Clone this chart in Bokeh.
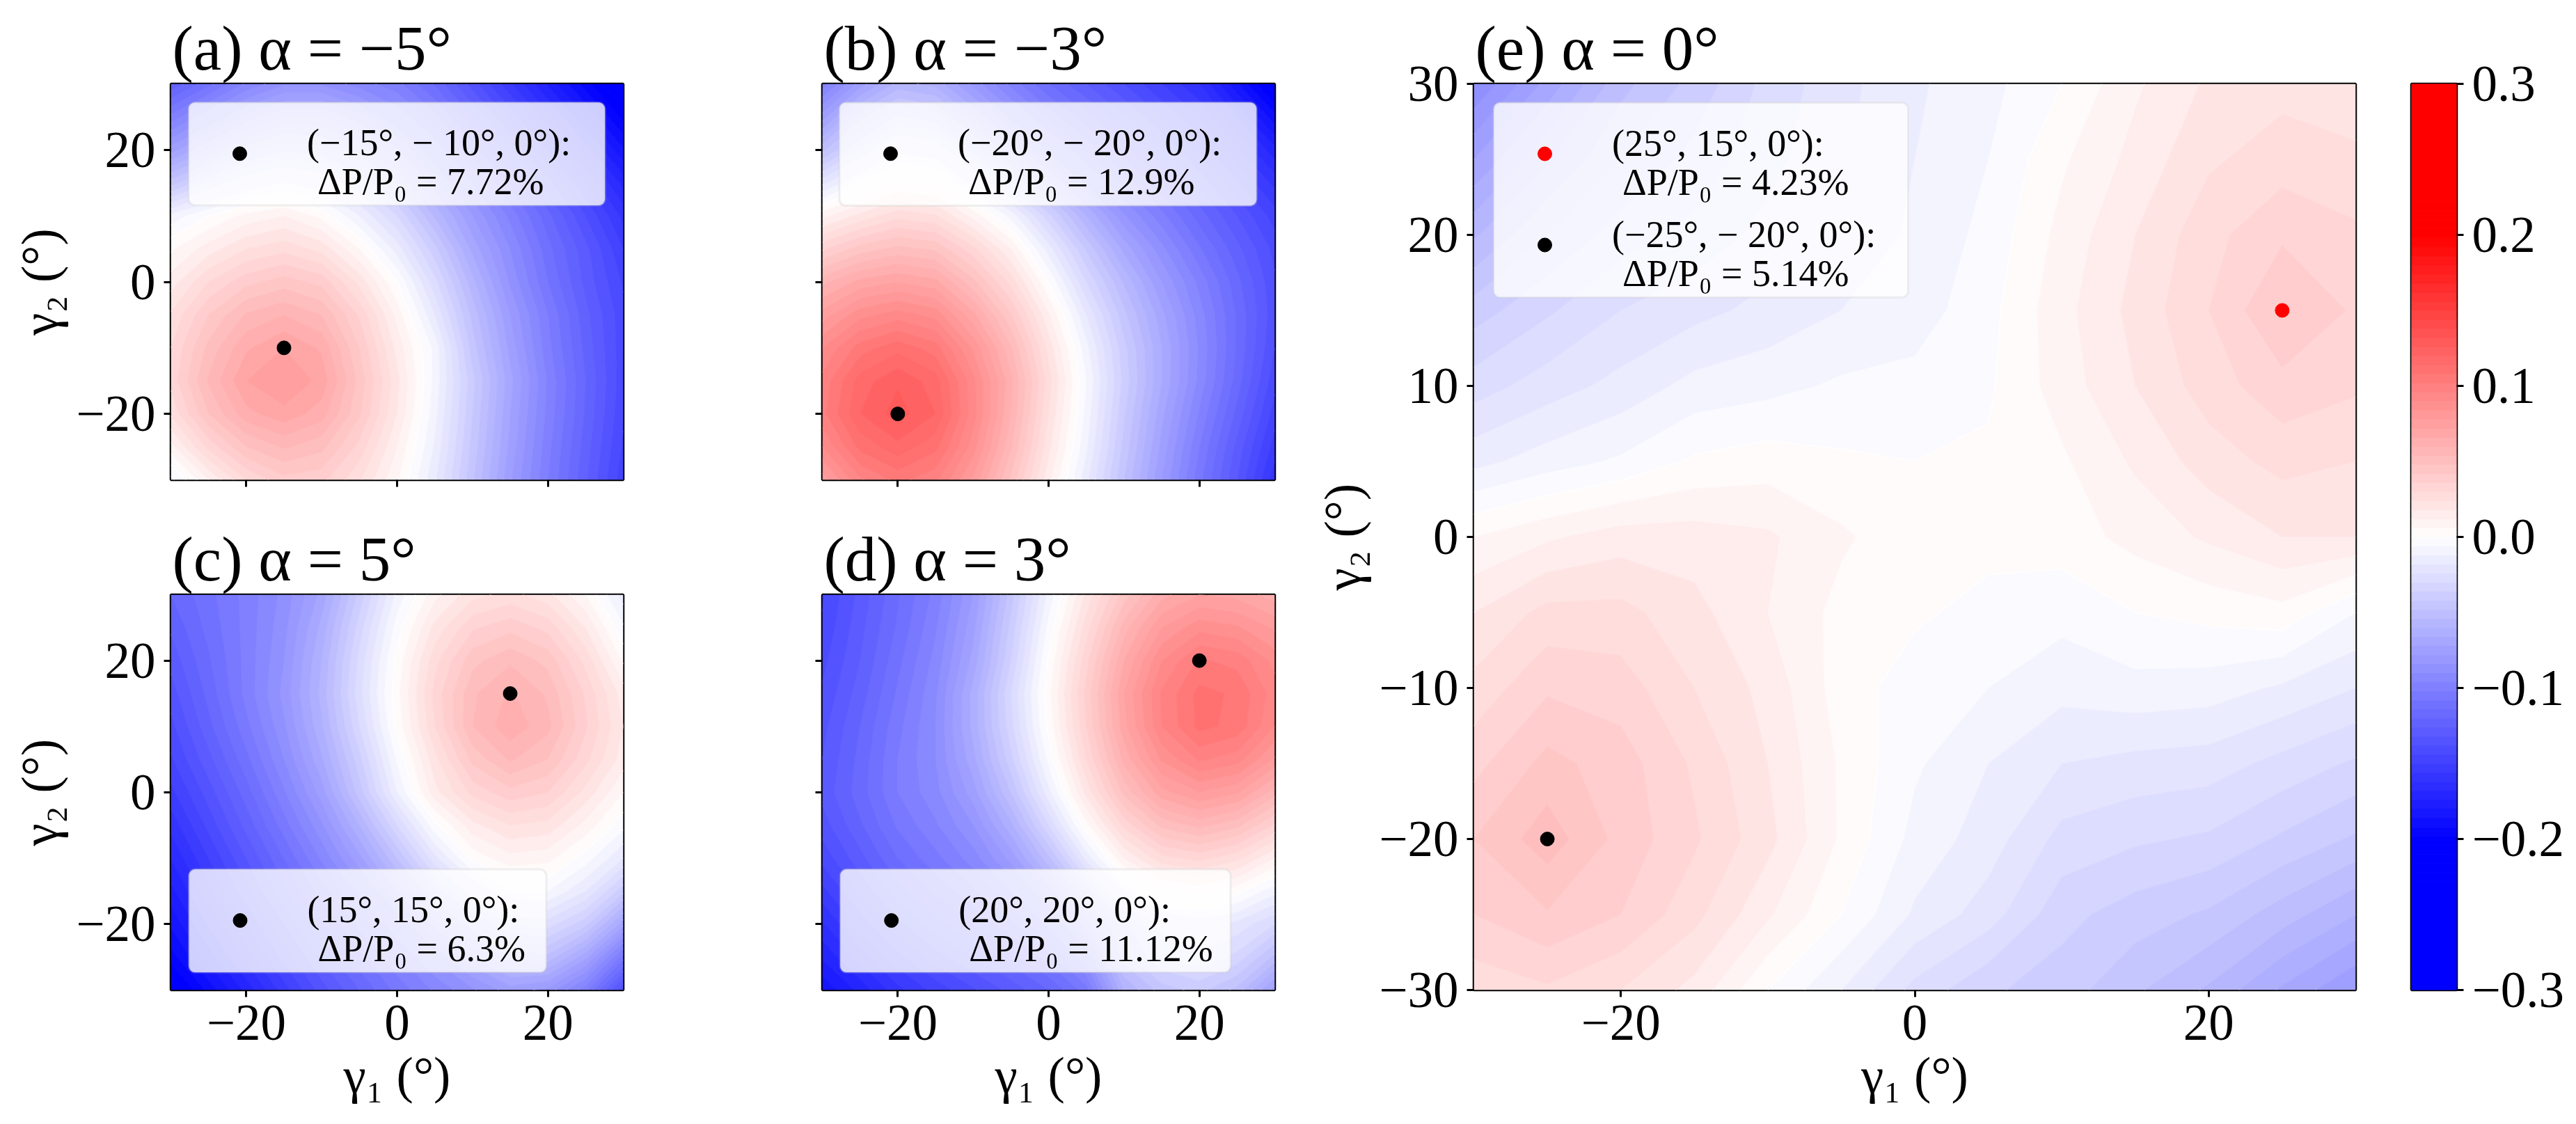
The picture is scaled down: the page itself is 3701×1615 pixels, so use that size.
import numpy as np
from bokeh.plotting import figure
from bokeh.layouts import row, column
from bokeh.models import Range1d, FixedTicker, CustomJSTickFormatter, BoxAnnotation
from bokeh.embed import file_html
from bokeh.resources import INLINE
from bokeh.core.properties import value

# ---------------- data ----------------
GAMMA = [-30, -25, -20, -15, -10, -5, 0, 5, 10, 15, 20, 25, 30]

# Delta P / P0 on the (gamma1, gamma2) grid; each list is one row, from gamma2 = 30 (top) down to gamma2 = -30
DP_A = [  # alpha = -5
    [-0.125, -0.11, -0.095, -0.085, -0.085, -0.093, -0.1, -0.115, -0.135, -0.155, -0.175, -0.195, -0.215],
    [-0.1, -0.085, -0.07, -0.06, -0.06, -0.07, -0.085, -0.1, -0.12, -0.14, -0.16, -0.18, -0.2],
    [-0.075, -0.06, -0.045, -0.037, -0.04, -0.05, -0.065, -0.085, -0.105, -0.125, -0.145, -0.165, -0.185],
    [-0.045, -0.03, -0.018, -0.012, -0.017, -0.03, -0.048, -0.07, -0.09, -0.11, -0.13, -0.15, -0.17],
    [-0.01, 0.0, 0.008, 0.012, 0.004, -0.012, -0.03, -0.055, -0.078, -0.098, -0.118, -0.138, -0.158],
    [0.005, 0.015, 0.024, 0.028, 0.022, 0.006, -0.015, -0.04, -0.068, -0.09, -0.112, -0.13, -0.15],
    [0.015, 0.03, 0.04, 0.045, 0.04, 0.022, 0.0, -0.028, -0.058, -0.085, -0.108, -0.128, -0.145],
    [0.025, 0.042, 0.055, 0.06, 0.054, 0.035, 0.01, -0.018, -0.05, -0.078, -0.102, -0.124, -0.142],
    [0.03, 0.05, 0.065, 0.072, 0.065, 0.042, 0.016, -0.008, -0.045, -0.074, -0.1, -0.122, -0.142],
    [0.032, 0.055, 0.072, 0.078, 0.07, 0.046, 0.02, -0.008, -0.04, -0.07, -0.097, -0.12, -0.142],
    [0.025, 0.048, 0.064, 0.07, 0.063, 0.043, 0.018, -0.01, -0.042, -0.072, -0.098, -0.121, -0.143],
    [0.01, 0.032, 0.048, 0.055, 0.05, 0.034, 0.012, -0.013, -0.044, -0.074, -0.1, -0.123, -0.145],
    [-0.008, 0.012, 0.03, 0.04, 0.038, 0.025, 0.007, -0.017, -0.047, -0.077, -0.102, -0.125, -0.148],
]
DP_B = [  # alpha = -3
    [-0.1, -0.075, -0.058, -0.062, -0.08, -0.098, -0.114, -0.126, -0.138, -0.15, -0.162, -0.185, -0.21],
    [-0.075, -0.05, -0.035, -0.04, -0.06, -0.08, -0.098, -0.112, -0.125, -0.138, -0.15, -0.168, -0.19],
    [-0.05, -0.03, -0.015, -0.018, -0.038, -0.06, -0.08, -0.097, -0.112, -0.126, -0.14, -0.155, -0.172],
    [-0.02, -0.005, 0.006, 0.004, -0.015, -0.036, -0.058, -0.08, -0.098, -0.113, -0.128, -0.143, -0.158],
    [0.01, 0.02, 0.028, 0.025, 0.01, -0.008, -0.034, -0.06, -0.083, -0.1, -0.117, -0.132, -0.147],
    [0.035, 0.045, 0.05, 0.047, 0.032, 0.012, -0.015, -0.043, -0.068, -0.088, -0.107, -0.124, -0.14],
    [0.058, 0.068, 0.072, 0.068, 0.05, 0.028, 0.0, -0.03, -0.055, -0.078, -0.098, -0.118, -0.137],
    [0.075, 0.088, 0.093, 0.088, 0.068, 0.043, 0.013, -0.018, -0.046, -0.07, -0.093, -0.115, -0.136],
    [0.09, 0.105, 0.112, 0.105, 0.083, 0.055, 0.022, -0.01, -0.04, -0.066, -0.091, -0.115, -0.138],
    [0.098, 0.117, 0.125, 0.117, 0.092, 0.062, 0.027, -0.006, -0.038, -0.066, -0.092, -0.117, -0.142],
    [0.1, 0.12, 0.129, 0.12, 0.093, 0.06, 0.024, -0.008, -0.041, -0.07, -0.097, -0.122, -0.147],
    [0.09, 0.11, 0.118, 0.11, 0.087, 0.055, 0.02, -0.011, -0.044, -0.074, -0.102, -0.128, -0.153],
    [0.075, 0.095, 0.104, 0.098, 0.077, 0.047, 0.014, -0.016, -0.048, -0.078, -0.106, -0.132, -0.16],
]
DP_C = [  # alpha = 5
    [-0.12, -0.11, -0.1, -0.088, -0.07, -0.04, -0.01, 0.01, 0.022, 0.026, 0.02, 0.006, -0.015],
    [-0.125, -0.112, -0.1, -0.086, -0.064, -0.033, -0.003, 0.02, 0.035, 0.04, 0.034, 0.018, -0.005],
    [-0.13, -0.115, -0.1, -0.084, -0.06, -0.028, 0.002, 0.028, 0.046, 0.053, 0.046, 0.028, 0.005],
    [-0.135, -0.118, -0.1, -0.082, -0.058, -0.026, 0.004, 0.032, 0.053, 0.061, 0.053, 0.035, 0.015],
    [-0.14, -0.122, -0.104, -0.085, -0.061, -0.03, 0.002, 0.03, 0.054, 0.064, 0.056, 0.037, 0.018],
    [-0.145, -0.128, -0.11, -0.09, -0.067, -0.038, -0.005, 0.022, 0.044, 0.055, 0.048, 0.032, 0.015],
    [-0.152, -0.135, -0.117, -0.097, -0.075, -0.045, -0.012, 0.016, 0.032, 0.04, 0.036, 0.022, 0.006],
    [-0.16, -0.142, -0.124, -0.105, -0.085, -0.06, -0.03, -0.002, 0.016, 0.024, 0.022, 0.01, -0.004],
    [-0.168, -0.15, -0.132, -0.114, -0.095, -0.074, -0.048, -0.02, 0.002, 0.01, 0.008, -0.003, -0.018],
    [-0.176, -0.158, -0.14, -0.122, -0.105, -0.088, -0.066, -0.04, -0.02, -0.006, -0.006, -0.018, -0.04],
    [-0.185, -0.167, -0.15, -0.132, -0.115, -0.1, -0.085, -0.064, -0.044, -0.03, -0.027, -0.04, -0.07],
    [-0.195, -0.177, -0.16, -0.142, -0.125, -0.11, -0.097, -0.083, -0.067, -0.052, -0.05, -0.07, -0.105],
    [-0.21, -0.19, -0.172, -0.153, -0.135, -0.12, -0.106, -0.095, -0.085, -0.075, -0.08, -0.1, -0.138],
]
DP_D = [  # alpha = 3
    [-0.145, -0.13, -0.115, -0.1, -0.078, -0.045, -0.01, 0.02, 0.045, 0.064, 0.072, 0.07, 0.063],
    [-0.143, -0.128, -0.113, -0.097, -0.074, -0.04, -0.004, 0.027, 0.057, 0.078, 0.088, 0.085, 0.077],
    [-0.14, -0.126, -0.11, -0.094, -0.07, -0.036, 0.001, 0.034, 0.066, 0.09, 0.103, 0.1, 0.088],
    [-0.137, -0.123, -0.107, -0.091, -0.064, -0.03, 0.004, 0.038, 0.072, 0.097, 0.11, 0.107, 0.093],
    [-0.134, -0.12, -0.104, -0.09, -0.064, -0.032, 0.002, 0.036, 0.07, 0.096, 0.11, 0.106, 0.09],
    [-0.132, -0.118, -0.102, -0.09, -0.068, -0.038, -0.004, 0.03, 0.062, 0.085, 0.097, 0.093, 0.077],
    [-0.13, -0.117, -0.102, -0.092, -0.075, -0.048, -0.014, 0.02, 0.05, 0.07, 0.078, 0.073, 0.057],
    [-0.135, -0.121, -0.107, -0.097, -0.084, -0.062, -0.03, 0.004, 0.032, 0.05, 0.056, 0.05, 0.035],
    [-0.142, -0.128, -0.114, -0.104, -0.093, -0.076, -0.05, -0.016, 0.012, 0.028, 0.032, 0.026, 0.012],
    [-0.152, -0.137, -0.123, -0.113, -0.103, -0.09, -0.07, -0.04, -0.012, 0.004, 0.008, 0.002, -0.01],
    [-0.163, -0.148, -0.134, -0.123, -0.114, -0.104, -0.088, -0.063, -0.038, -0.022, -0.016, -0.02, -0.03],
    [-0.173, -0.16, -0.146, -0.135, -0.126, -0.117, -0.105, -0.085, -0.045, -0.03, -0.026, -0.032, -0.05],
    [-0.185, -0.172, -0.158, -0.148, -0.139, -0.13, -0.12, -0.105, -0.06, -0.045, -0.04, -0.05, -0.075],
]
DP_E = [  # alpha = 0
    [-0.09, -0.07, -0.05, -0.04, -0.028, -0.02, -0.013, -0.008, 0.0, 0.011, 0.019, 0.022, 0.018],
    [-0.072, -0.055, -0.042, -0.034, -0.026, -0.019, -0.012, -0.006, 0.005, 0.014, 0.023, 0.027, 0.026],
    [-0.055, -0.042, -0.033, -0.028, -0.022, -0.016, -0.011, -0.004, 0.008, 0.018, 0.028, 0.035, 0.031],
    [-0.039, -0.031, -0.024, -0.02, -0.016, -0.012, -0.009, -0.002, 0.01, 0.02, 0.03, 0.0423, 0.035],
    [-0.027, -0.021, -0.016, -0.01, -0.008, -0.005, -0.004, -0.001, 0.009, 0.018, 0.027, 0.034, 0.031],
    [-0.014, -0.009, -0.005, 0.001, 0.003, 0.001, 0.0, 0.001, 0.005, 0.013, 0.021, 0.026, 0.024],
    [0.006, 0.011, 0.015, 0.015, 0.013, 0.007, 0.002, 0.002, 0.003, 0.008, 0.013, 0.018, 0.018],
    [0.018, 0.026, 0.026, 0.02, 0.012, 0.004, 0.001, -0.002, -0.004, 0.0, 0.002, 0.004, -0.006],
    [0.026, 0.035, 0.033, 0.024, 0.016, 0.003, -0.003, -0.006, -0.01, -0.008, -0.009, -0.013, -0.018],
    [0.034, 0.044, 0.039, 0.029, 0.018, 0.005, -0.005, -0.012, -0.018, -0.02, -0.021, -0.026, -0.031],
    [0.042, 0.0514, 0.040, 0.031, 0.02, 0.005, -0.008, -0.015, -0.026, -0.029, -0.031, -0.037, -0.043],
    [0.036, 0.0414, 0.036, 0.026, 0.013, 0.0, -0.013, -0.021, -0.034, -0.039, -0.043, -0.051, -0.06],
    [0.026, 0.029, 0.024, 0.016, 0.0, -0.012, -0.026, -0.035, -0.039, -0.047, -0.055, -0.067, -0.078],
]

TITLES = ["(a) α = −5°", "(b) α = −3°", "(c) α = 5°", "(d) α = 3°", "(e) α = 0°"]

# optimum points (gamma1, gamma2), their colours and legend texts
OPT_A = [(-15, -10)]
OPT_B = [(-20, -20)]
OPT_C = [(15, 15)]
OPT_D = [(20, 20)]
OPT_E = [(25, 15), (-25, -20)]
OPT_COLORS_E = ["#ff0000", "#000000"]
LEG_A = [("(−15°, − 10°, 0°):", "ΔP/P₀ = 7.72%")]
LEG_B = [("(−20°, − 20°, 0°):", "ΔP/P₀ = 12.9%")]
LEG_C = [("(15°, 15°, 0°):", "ΔP/P₀ = 6.3%")]
LEG_D = [("(20°, 20°, 0°):", "ΔP/P₀ = 11.12%")]
LEG_E = [("(25°, 15°, 0°):", "ΔP/P₀ = 4.23%"), ("(−25°, − 20°, 0°):", "ΔP/P₀ = 5.14%")]

SMALL_TICKS = [-20, 0, 20]
E_YTICKS = [-30, -20, -10, 0, 10, 20, 30]
CB_TICKS = [-0.3, -0.2, -0.1, 0.0, 0.1, 0.2, 0.3]
XLABEL = "γ₁ (°)"
YLABEL = "γ₂ (°)"

# ---------------- styling ----------------
FONT = "Liberation Serif"
TICK_FS = "73px"
TITLE_FS = "91px"
LEG_FS = "54px"
LEVEL_LO, LEVEL_HI, N_LEVELS = -0.3, 0.3, 101
CNORM = 0.2

LEVELS = np.linspace(LEVEL_LO, LEVEL_HI, N_LEVELS)


def bwr_hex(v):
    t = max(-1.0, min(1.0, v / CNORM))
    if t < 0:
        c = int(round(255 * (1 + t)))
        return "#%02x%02x%02x" % (c, c, 255)
    c = int(round(255 * (1 - t)))
    return "#%02x%02x%02x" % (255, c, c)


BAND_COLORS = [bwr_hex(0.5 * (a + b)) for a, b in zip(LEVELS[:-1], LEVELS[1:])]
LINE_COLORS = [bwr_hex(v) for v in LEVELS]

INT_FMT = "return (tick < 0 ? '\u2212' : '') + Math.abs(tick).toFixed(0);"
DEC_FMT = "return (tick < -1e-9 ? '\u2212' : '') + Math.abs(tick).toFixed(1);"
NO_FMT = "return '';"


def style_axis(ax, ticks, show_labels, label, fmt=INT_FMT):
    ax.ticker = FixedTicker(ticks=ticks)
    ax.formatter = CustomJSTickFormatter(code=fmt if show_labels else NO_FMT)
    ax.axis_label = label
    ax.major_tick_out = 10
    ax.major_tick_in = 0
    ax.major_tick_line_width = 3
    ax.major_tick_line_color = "black"
    ax.minor_tick_line_color = None
    ax.axis_line_color = None
    ax.major_label_text_font = FONT
    ax.major_label_text_font_size = TICK_FS
    ax.major_label_text_color = "black"
    ax.major_label_standoff = 12
    ax.axis_label_text_font = FONT
    ax.axis_label_text_font_size = TICK_FS
    ax.axis_label_text_font_style = "normal"
    ax.axis_label_text_color = "black"
    ax.axis_label_standoff = 8


def panel(z_rows, fw, fh, borders, title, show_x, show_y, yticks, opts, opt_colors, legend, box):
    bl, br, bt, bb = borders
    p = figure(frame_width=fw, frame_height=fh, min_border_left=bl, min_border_right=br,
               min_border_top=bt, min_border_bottom=bb,
               x_range=Range1d(-30, 30), y_range=Range1d(-30, 30),
               output_backend="svg", toolbar_location=None, title=title)
    p.title.text_font = FONT
    p.title.text_font_size = TITLE_FS
    p.title.text_font_style = "normal"
    p.title.text_color = "black"
    p.title.align = "left"
    p.title.offset = 2
    p.title.standoff = 2
    p.grid.visible = False
    p.outline_line_color = "black"
    p.outline_line_width = 3.5
    p.background_fill_color = "white"
    p.border_fill_color = "white"

    z = np.array(z_rows, dtype=float)[::-1]
    p.contour(x=GAMMA, y=GAMMA, z=z, levels=list(LEVELS), fill_color=BAND_COLORS,
              line_color=LINE_COLORS, line_width=1.2)

    style_axis(p.xaxis[0], SMALL_TICKS, show_x, XLABEL if show_x else None)
    style_axis(p.yaxis[0], yticks, show_y, YLABEL if show_y else None)

    # optimum points
    p.scatter(x=[o[0] for o in opts], y=[o[1] for o in opts], size=20,
              color=opt_colors, line_color=opt_colors)

    # legend box (offsets in px from frame left/top)
    def to_data(dx, dy):
        return -30 + dx * 60.0 / fw, 30 - dy * 60.0 / fh

    L, R, T, B = box
    x0, y0 = to_data(L, T)
    x1, y1 = to_data(R, B)
    p.add_layout(BoxAnnotation(left=x0, right=x1, top=y0, bottom=y1, fill_color="white",
                               fill_alpha=0.8, line_color="#cccccc", line_width=3,
                               border_radius=9))
    for k, (l1, l2) in enumerate(legend):
        off = k * 131
        mx, my = to_data(L + 73.5, T + 73.5 + off)
        r1 = p.scatter(x=[mx], y=[my], size=20, color=opt_colors[k], line_color=opt_colors[k])
        r1.level = "overlay"
        tx1, ty1 = to_data(L + 170, T + 58 + off)
        tx2, ty2 = to_data(L + 185, T + 114 + off)
        r2 = p.text(x=[tx1, tx2], y=[ty1, ty2], text=[l1, l2], text_font=value(FONT),
                    text_font_size=LEG_FS, text_color="black", text_align="left",
                    text_baseline="alphabetic")
        r2.level = "overlay"
    return p


fa = panel(DP_A, 650, 569, (245, 105, 120, 30), TITLES[0], False, True, SMALL_TICKS,
           OPT_A, ["#000000"], LEG_A, (25.5, 623.6, 26.8, 174.5))
fb = panel(DP_B, 650, 569, (181, 46, 120, 30), TITLES[1], False, False, SMALL_TICKS,
           OPT_B, ["#000000"], LEG_B, (24.5, 623.8, 26.8, 175))
fc = panel(DP_C, 650, 568, (245, 105, 135, 175), TITLES[2], True, True, SMALL_TICKS,
           OPT_C, ["#000000"], LEG_C, (26, 539.4, 394.6, 542.6))
fd = panel(DP_D, 650, 568, (181, 46, 135, 175), TITLES[3], True, False, SMALL_TICKS,
           OPT_D, ["#000000"], LEG_D, (25.7, 586.5, 394.6, 542.6))
fe = panel(DP_E, 1267, 1302, (240, 56, 120, 175), TITLES[4], True, True, E_YTICKS,
           OPT_E, OPT_COLORS_E, LEG_E, (28.5, 624, 27, 306.8))

# colour bar
cb = figure(frame_width=65, frame_height=1302, min_border_left=24, min_border_right=150,
            min_border_top=120, min_border_bottom=175,
            x_range=Range1d(0, 1), y_range=Range1d(LEVEL_LO, LEVEL_HI),
            output_backend="svg", toolbar_location=None,
            x_axis_location=None, y_axis_location="right")
cb.quad(left=0, right=1, bottom=list(LEVELS[:-1]), top=list(LEVELS[1:]),
        fill_color=BAND_COLORS, line_color=BAND_COLORS, line_width=1)
style_axis(cb.yaxis[0], CB_TICKS, True, None, fmt=DEC_FMT)
cb.grid.visible = False
cb.outline_line_color = "black"
cb.outline_line_width = 3.5
cb.border_fill_color = "white"

layout = row(column(row(fa, fb), row(fc, fd)), fe, cb)

open("out.html", "w").write(file_html(layout, INLINE))
